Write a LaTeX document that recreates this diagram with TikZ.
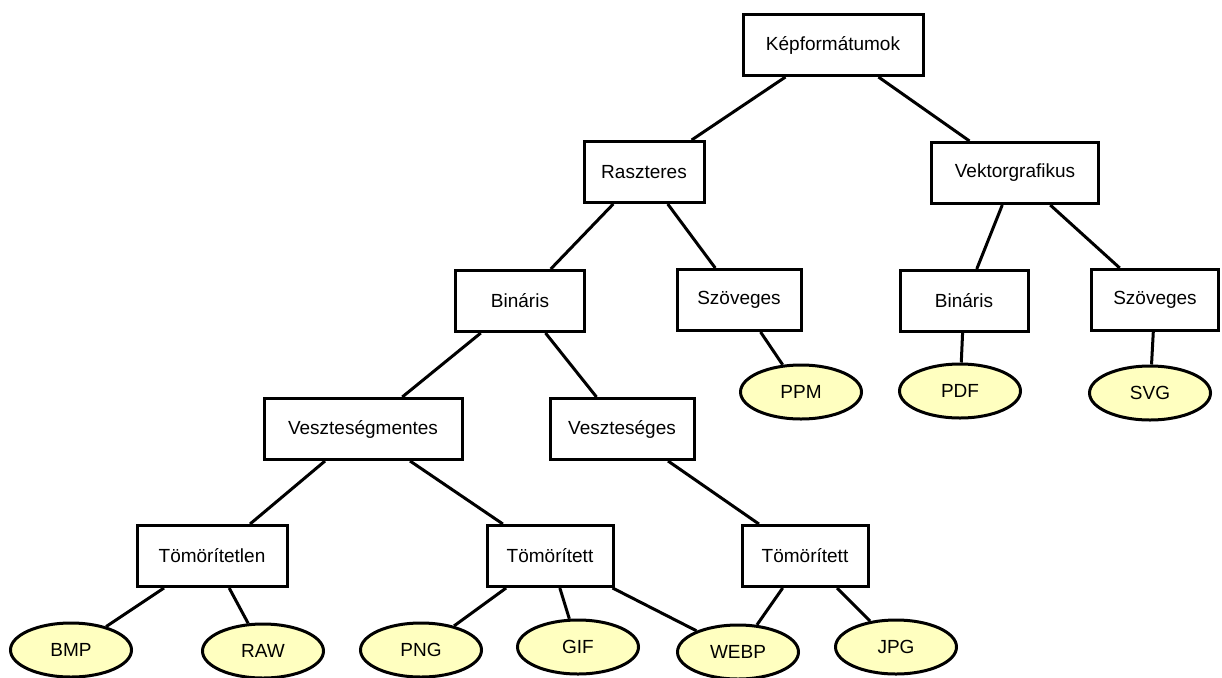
\documentclass[tikz,border=0pt]{standalone}
\usepackage{fontspec}
\setmainfont{Liberation Sans}
\usetikzlibrary{shapes.geometric}
\definecolor{leaf}{HTML}{FFFFC0}
\begin{document}
\begin{tikzpicture}[x=1pt,y=-1pt,
  box/.style={draw=black,line width=3pt,fill=white,minimum height=61pt,inner sep=0pt,font=\fontsize{19}{22}\selectfont},
  leafe/.style={ellipse,draw=black,line width=3pt,fill=leaf,minimum width=121pt,minimum height=54pt,inner sep=0pt,font=\fontsize{19}{22}\selectfont},
  edge/.style={line width=3pt}]
\useasboundingbox (0,0) rectangle (1222,677);
\node[box,minimum width=180pt] (kep) at (833,45) {Képformátumok};
\node[box,minimum width=120pt] (rasz) at (644,172) {Raszteres};
\node[box,minimum width=167pt] (vekt) at (1015,173) {Vektorgrafikus};
\node[box,minimum width=129pt] (bin1) at (520,301) {Bináris};
\node[box,minimum width=124pt] (szo1) at (739,300) {Szöveges};
\node[box,minimum width=128pt] (bin2) at (964,301) {Bináris};
\node[box,minimum width=127pt] (szo2) at (1155,300) {Szöveges};
\node[box,minimum width=198pt] (vm) at (363,429) {Veszteségmentes};
\node[box,minimum width=144pt] (vs) at (622,429) {Veszteséges};
\node[box,minimum width=150pt] (tl) at (212,556) {Tömörítetlen};
\node[box,minimum width=126pt] (t1) at (550,556) {Tömörített};
\node[box,minimum width=126pt] (t2) at (805,556) {Tömörített};
\node[leafe] (ppm) at (801,392) {PPM};
\node[leafe] (pdf) at (960,391) {PDF};
\node[leafe] (svg) at (1150,393) {SVG};
\node[leafe] (bmp) at (71,650) {BMP};
\node[leafe] (raw) at (263,651) {RAW};
\node[leafe] (png) at (421,650) {PNG};
\node[leafe] (gif) at (578,647) {GIF};
\node[leafe] (webp) at (738,652) {WEBP};
\node[leafe] (jpg) at (896,647) {JPG};
\foreach \a/\b in {kep/rasz,kep/vekt,rasz/bin1,rasz/szo1,vekt/bin2,vekt/szo2,szo1/ppm,bin2/pdf,szo2/svg,bin1/vm,bin1/vs,vm/tl,vm/t1,vs/t2,tl/bmp,tl/raw,t1/png,t1/gif,t1/webp,t2/webp,t2/jpg}
  \draw[edge] (\a) -- (\b);
\end{tikzpicture}
\end{document}
